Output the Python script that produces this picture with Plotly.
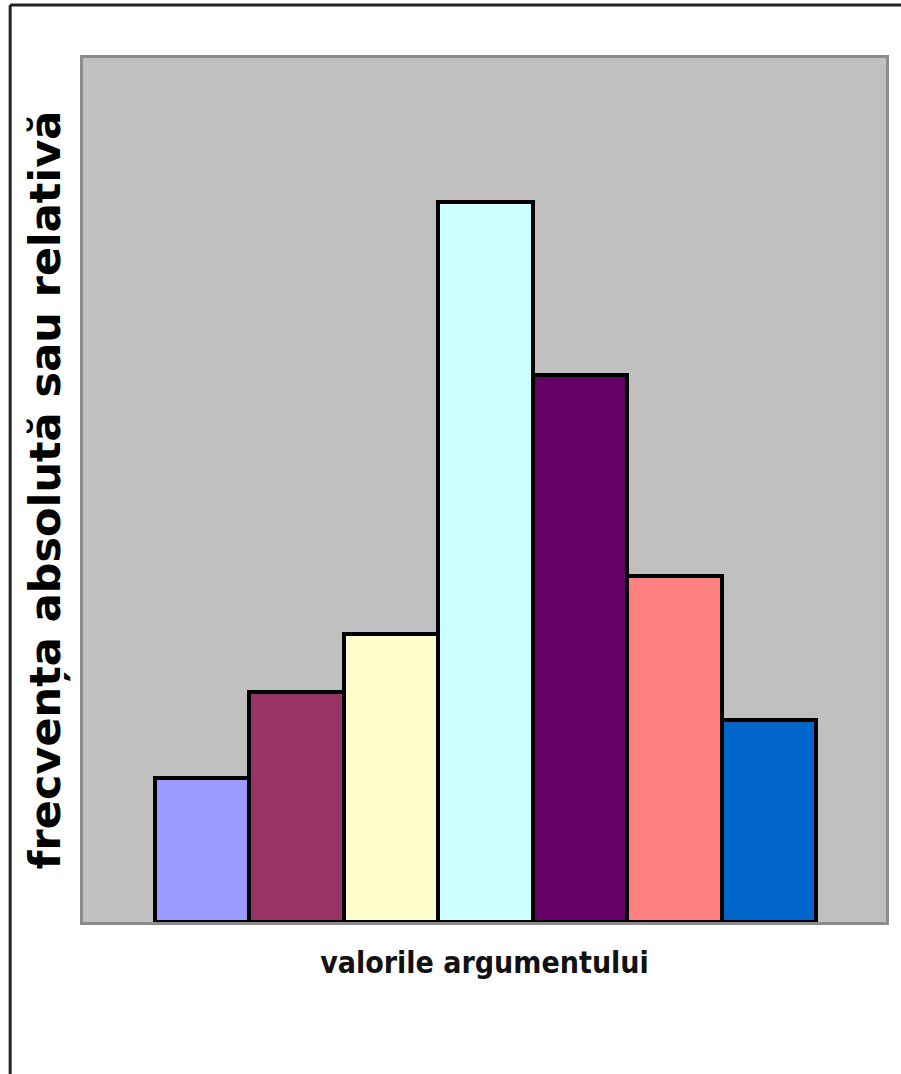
import plotly.graph_objects as go

categories = [1, 2, 3, 4, 5, 6, 7]
values = [5, 8, 10, 25, 19, 12, 7]
colors = ["#9999FF", "#993366", "#FFFFCC", "#CCFFFF", "#660066", "#FF8080", "#0066CC"]
x_title = "valorile argumentului"
y_title = "frecvența absolută sau relativă"

fig = go.Figure()
fig.add_trace(go.Bar(
    x=categories, y=values,
    marker=dict(color=colors, line=dict(color="#000000", width=4)),
    width=1.0,
    hoverinfo="x+y",
))

fig.update_layout(
    width=901, height=1074,
    margin=dict(l=83, r=13, t=58, b=152),
    paper_bgcolor="#FFFFFF",
    plot_bgcolor="#C0C0C0",
    bargap=0,
    showlegend=False,
    font=dict(family="Liberation Sans, Arial, sans-serif", color="#000000"),
    xaxis=dict(
        range=[-0.26, 8.24], showticklabels=False, ticks="", showgrid=False, zeroline=False,
        showline=True, mirror=True, linecolor="#8C8C8C", linewidth=3,
        title=dict(text="<b>" + x_title + "</b>", standoff=28,
                   font=dict(family="DejaVu Sans Condensed, Liberation Sans Narrow, sans-serif",
                             size=30, color="#111111")),
    ),
    yaxis=dict(
        range=[0, 30], showticklabels=False, ticks="", showgrid=False, zeroline=False,
        showline=True, mirror=True, linecolor="#8C8C8C", linewidth=3,
        title=dict(text="<b>" + y_title + "</b>", standoff=6,
                   font=dict(family="DejaVu Sans, sans-serif", size=43, color="#000000")),
    ),
    shapes=[
        dict(type="line", xref="paper", yref="paper", x0=-0.0907, y0=1.0613, x1=1.2, y1=1.0613,
             line=dict(color="#222222", width=3)),
        dict(type="line", xref="paper", yref="paper", x0=-0.0907, y0=1.0613, x1=-0.0907, y1=-0.3,
             line=dict(color="#222222", width=3)),
    ],
)

fig.write_html("out.html", config={"displayModeBar": False},
               post_script="document.body.style.margin='0';document.body.style.overflow='hidden';")
